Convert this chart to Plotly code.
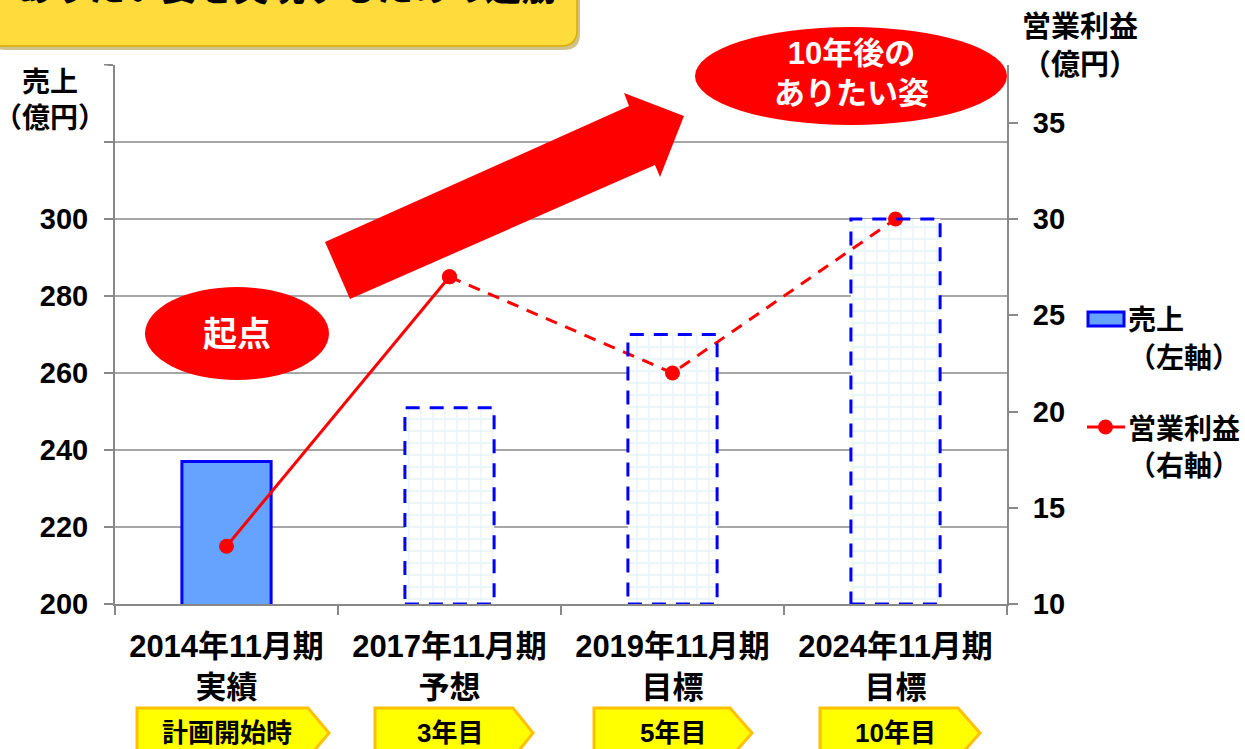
import plotly.graph_objects as go

# ---------------- data ----------------
categories = ["2014年11月期<br>実績", "2017年11月期<br>予想", "2019年11月期<br>目標", "2024年11月期<br>目標"]
sales = [237, 251, 270, 300]          # 売上 (億円, left axis)
profit = [13, 27, 22, 30]             # 営業利益 (億円, right axis)
stages = ["計画開始時", "3年目", "5年目", "10年目"]
sales_tickvals = [200, 220, 240, 260, 280, 300, 320, 340]
sales_ticktext = ["200", "220", "240", "260", "280", "300", "", ""]
profit_tickvals = [10, 15, 20, 25, 30, 35]
legend_sales = ["売上", "（左軸）"]
legend_profit = ["営業利益", "（右軸）"]
title_text = "ありたい姿を実現するための道筋"
start_label = "起点"
goal_label = "10年後の<br>ありたい姿"

FONT = "Liberation Sans, Arial, Noto Sans CJK JP, sans-serif"
W, H = 1245, 749
L, R, T, B = 115, 1007, 65, 604   # plot area in page pixels
BAR_W = 0.4
RED = "#FF0000"


def px(x):
    return (x - L) / (R - L)


def py(y):
    return (B - y) / (B - T)


def path(points):
    return "M " + " L ".join(f"{px(x):.5f},{py(y):.5f}" for x, y in points) + " Z"


def bold(size, color="black"):
    return dict(size=size, color=color, family=FONT, weight="bold")


fig = go.Figure()

# solid bar (actual)
fig.add_trace(go.Bar(
    x=categories[:1], y=sales[:1], width=BAR_W, name="売上",
    marker=dict(color="#66A3FF", line=dict(color="#0000FF", width=3)),
    yaxis="y", showlegend=False,
))
# target bars with grid pattern
fig.add_trace(go.Bar(
    x=categories[1:], y=sales[1:], width=BAR_W, name="売上（目標）", showlegend=False,
    marker=dict(color="white", line=dict(width=0),
                pattern=dict(shape="+", fgcolor="#CDE6F2", bgcolor="white", size=12, solidity=0.2)),
    yaxis="y",
))
# profit line: actual -> forecast (solid), then targets (dashed)
fig.add_trace(go.Scatter(
    x=categories[:2], y=profit[:2], mode="lines+markers", name="営業利益",
    line=dict(color=RED, width=3), marker=dict(color=RED, size=15),
    yaxis="y2", showlegend=False,
))
fig.add_trace(go.Scatter(
    x=categories[1:], y=profit[1:], mode="lines+markers", name="営業利益（目標）", showlegend=False,
    line=dict(color=RED, width=3, dash="12px,9px"), marker=dict(color=RED, size=15),
    yaxis="y2",
))

shapes = []
# dashed borders of target bars
for i in range(1, len(sales)):
    shapes.append(dict(type="rect", xref="x", yref="y", x0=i - BAR_W / 2, x1=i + BAR_W / 2,
                       y0=sales_tickvals[0], y1=sales[i],
                       line=dict(color="#0000FF", width=3, dash="14px,10px"), layer="above"))

# big red arrow
shapes.append(dict(type="path", xref="paper", yref="paper",
                   path=path([(325, 242), (350, 299), (655, 165), (660, 177), (684, 116),
                              (624, 93), (629, 106)]),
                   fillcolor=RED, line=dict(width=0), layer="above"))
# ellipses
shapes.append(dict(type="circle", xref="paper", yref="paper", x0=px(145), x1=px(329),
                   y0=py(380), y1=py(287), fillcolor=RED, line=dict(width=0), layer="above"))
shapes.append(dict(type="circle", xref="paper", yref="paper", x0=px(695), x1=px(1007),
                   y0=py(125), y1=py(27), fillcolor=RED, line=dict(width=0), layer="above"))


def rounded(x0, y0, x1, y1, r):
    p = [f"M {px(x0 + r):.5f},{py(y0):.5f}",
         f"L {px(x1 - r):.5f},{py(y0):.5f}",
         f"Q {px(x1):.5f},{py(y0):.5f} {px(x1):.5f},{py(y0 + r):.5f}",
         f"L {px(x1):.5f},{py(y1 - r):.5f}",
         f"Q {px(x1):.5f},{py(y1):.5f} {px(x1 - r):.5f},{py(y1):.5f}",
         f"L {px(x0 + r):.5f},{py(y1):.5f}",
         f"Q {px(x0):.5f},{py(y1):.5f} {px(x0):.5f},{py(y1 - r):.5f}",
         f"L {px(x0):.5f},{py(y0 + r):.5f}",
         f"Q {px(x0):.5f},{py(y0):.5f} {px(x0 + r):.5f},{py(y0):.5f} Z"]
    return " ".join(p)


# title box (shadow + box)
shapes.append(dict(type="path", xref="paper", yref="paper", path=rounded(-10, -40, 580, 50, 16),
                   fillcolor="rgba(150,120,0,0.45)", line=dict(width=0), layer="above"))
shapes.append(dict(type="path", xref="paper", yref="paper", path=rounded(-12, -42, 577, 46, 16),
                   fillcolor="#FFDB3B", line=dict(color="#D9AE00", width=1.5), layer="above"))

# stage tags (pentagons)
tag_spans = [(137, 308, 329), (375, 513, 533), (594, 730, 752), (820, 958, 980)]
for (x0, x1, tip) in tag_spans:
    shapes.append(dict(type="path", xref="paper", yref="paper",
                       path=path([(x0, 708), (x1, 708), (tip, 733), (x1, 758), (x0, 758)]),
                       fillcolor="#FFFF00", line=dict(color="#FFC000", width=3), layer="above"))

# legend symbols
shapes.append(dict(type="rect", xref="paper", yref="paper", x0=px(1088), x1=px(1124),
                   y0=py(326), y1=py(312), fillcolor="#66A3FF",
                   line=dict(color="#0000FF", width=3), layer="above"))
shapes.append(dict(type="line", xref="paper", yref="paper", x0=px(1087), x1=px(1125),
                   y0=py(427), y1=py(427), line=dict(color=RED, width=3), layer="above"))
shapes.append(dict(type="circle", xref="paper", yref="paper", x0=px(1098), x1=px(1113),
                   y0=py(434.5), y1=py(419.5), fillcolor=RED, line=dict(width=0), layer="above"))

annotations = [
    dict(text=title_text, xref="paper", yref="paper", x=px(287), y=py(-11), showarrow=False,
         font=bold(36), xanchor="center", yanchor="middle"),
    dict(text=start_label, xref="paper", yref="paper", x=px(237), y=py(334), showarrow=False,
         font=bold(34, "white"), xanchor="center", yanchor="middle"),
    dict(text=goal_label, xref="paper", yref="paper", x=px(851), y=py(74), showarrow=False,
         font=bold(31, "white"), xanchor="center", yanchor="middle"),
    dict(text="売上<br>（億円）", xref="paper", yref="paper", x=px(50), y=py(100), showarrow=False,
         font=bold(28), xanchor="center", yanchor="middle", bgcolor="white"),
    dict(text="営業利益<br>（億円）", xref="paper", yref="paper", x=px(1080), y=py(46), showarrow=False,
         font=bold(29), xanchor="center", yanchor="middle"),
]
# legend texts
for txt, yc in zip(legend_sales, (320, 358)):
    annotations.append(dict(text=txt, xref="paper", yref="paper", x=px(1126), y=py(yc), showarrow=False,
                            font=bold(28), xanchor="left", yanchor="middle"))
for txt, yc in zip(legend_profit, (429, 466)):
    annotations.append(dict(text=txt, xref="paper", yref="paper", x=px(1126), y=py(yc), showarrow=False,
                            font=bold(28), xanchor="left", yanchor="middle"))
# stage tag texts
for i, s in enumerate(stages):
    annotations.append(dict(text=s, xref="x", yref="paper", x=i, y=py(733), showarrow=False,
                            font=bold(26), xanchor="center", yanchor="middle"))

fig.update_layout(
    width=W, height=H,
    margin=dict(l=L, r=W - R, t=T, b=H - B, pad=0, autoexpand=False),
    paper_bgcolor="white", plot_bgcolor="white",
    barmode="overlay",
    showlegend=False,
    font=dict(family=FONT, color="black", size=28, weight="bold"),
    xaxis=dict(type="category", range=[-0.5, 3.5], tickson="boundaries", ticks="outside", ticklen=9,
               tickcolor="#888888", tickwidth=1.5, showline=True, linecolor="#888888", linewidth=2,
               showgrid=False, tickfont=bold(31), ticklabelstandoff=14),
    yaxis=dict(range=[200, 340], tickvals=sales_tickvals, ticktext=sales_ticktext,
               showgrid=True, gridcolor="#A6A6A6", gridwidth=1.5, zeroline=False,
               showline=True, linecolor="#888888", linewidth=2, ticks="outside", ticklen=9,
               tickcolor="#888888", tickwidth=1.5, ticklabelstandoff=10, tickfont=bold(29)),
    yaxis2=dict(range=[10, 38], tickvals=profit_tickvals, overlaying="y", side="right",
                showgrid=False, zeroline=False, showline=True, linecolor="#888888", linewidth=2,
                ticks="outside", ticklen=9, tickcolor="#888888", tickwidth=1.5, ticklabelstandoff=9,
                tickfont=bold(29)),
    shapes=shapes,
    annotations=annotations,
)

fig.write_html("out.html", config={"displayModeBar": False},
               post_script="document.body.style.margin='0';document.body.style.overflow='hidden';")
